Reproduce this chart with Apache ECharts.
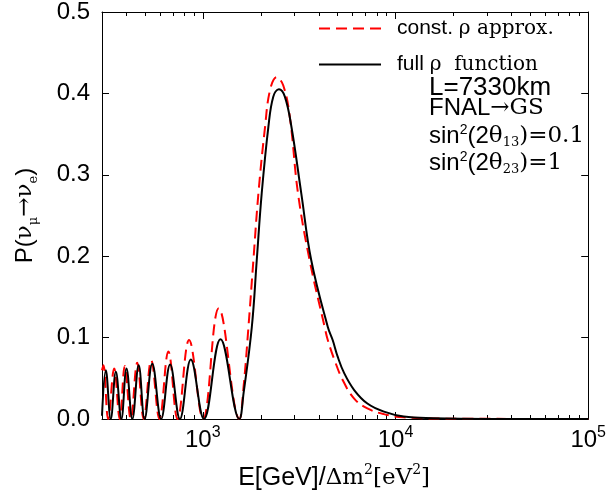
<!DOCTYPE html>
<html><head><meta charset="utf-8">
<script src="https://cdn.jsdelivr.net/npm/echarts@6/dist/echarts.min.js"></script>
<style>html,body{margin:0;padding:0;background:#fff}#c{width:609px;height:500px}</style>
</head><body><div id="c"></div>
<script>
// ---- data ----
const constE = [300, 305, 323, 347, 371, 394, 423, 457, 494, 540, 596, 663, 740, 849, 1003, 1211, 1549, 1629, 1726, 1831, 1944, 2105, 2233, 2415, 2614, 2830, 3121, 3586, 4290, 4453, 4825, 5319, 6105, 7148, 8710, 11040, 20000, 100000];
const constP = [0.060, 0.066, 0, 0.062, 0, 0.065, 0, 0.069, 0, 0.072, 0, 0.083, 0, 0.097, 0, 0.136, 0, 0.040, 0.113, 0.195, 0.277, 0.359, 0.404, 0.420, 0.410, 0.371, 0.277, 0.195, 0.113, 0.097, 0.0725, 0.048, 0.025, 0.013, 0.006, 0.002, 0.0004, 0];
const fullE = [300, 314, 333, 354, 378, 402, 431, 465, 499, 547, 608, 677, 761, 867, 1014, 1236, 1549, 1629, 1797, 1906, 2022, 2190, 2322, 2485, 2666, 2884, 3246, 3655, 4455, 4721, 5012, 5425, 6105, 7148, 8710, 11040, 15740, 30000, 100000];
const fullP = [0.004, 0.060, 0, 0.058, 0, 0.062, 0, 0.066, 0, 0.068, 0, 0.067, 0, 0.073, 0, 0.098, 0, 0.032, 0.113, 0.195, 0.277, 0.359, 0.396, 0.405, 0.396, 0.359, 0.277, 0.195, 0.113, 0.097, 0.0766, 0.056, 0.0356, 0.019, 0.009, 0.003, 0.001, 0, 0];
const xMajorTicks = [1000, 10000, 100000];
const xMinorTicks = [400, 500, 600, 700, 800, 900, 2000, 3000, 4000, 5000, 6000, 7000, 8000, 9000, 20000, 30000, 40000, 50000, 60000, 70000, 80000, 90000];
const yTicks = [0, 0.1, 0.2, 0.3, 0.4, 0.5];
const seriesNames = ['const. ρ approx.', 'full ρ  function'];

const SANS = 'Liberation Sans';
const SERIF = 'DejaVu Serif';
const zip = (a, b) => a.map((v, i) => [v, b[i]]);

const chart = echarts.init(document.getElementById('c'), null, {renderer: 'canvas'});

function xAxisCfg(pos, major, showLine) {
  return {
    type: 'log', logBase: 10, min: 300, max: 100000, position: pos,
    axisLine: {show: showLine, lineStyle: {color: '#000', width: 1}},
    axisTick: {show: true, inside: true, length: major ? 7 : 4, customValues: major ? xMajorTicks : xMinorTicks, lineStyle: {color: '#000', width: 1}},
    minorTick: {show: false},
    splitLine: {show: false},
    axisLabel: (pos === 'bottom' && major) ? {
      show: true, customValues: xMajorTicks, margin: 6,
      formatter: v => '{b|10}{s|' + Math.round(Math.log10(v)) + '}',
      rich: {
        b: {fontFamily: SANS, fontSize: 24, color: '#000', lineHeight: 30},
        s: {fontFamily: SANS, fontSize: 16, color: '#000', lineHeight: 16, verticalAlign: 'top'}
      }
    } : {show: false}
  };
}
function yAxisCfg(pos, showLabel) {
  return {
    type: 'value', min: 0, max: 0.5, interval: 0.1, position: pos,
    axisLine: {show: true, lineStyle: {color: '#000', width: 1}},
    axisTick: {show: true, inside: true, length: 7, lineStyle: {color: '#000'}},
    splitLine: {show: false},
    axisLabel: showLabel ? {show: true, margin: 12, fontFamily: SANS, fontSize: 24, color: '#000', formatter: v => v.toFixed(1)} : {show: false}
  };
}

const xA = [xAxisCfg('bottom', true, true), xAxisCfg('bottom', false, false), xAxisCfg('top', true, true), xAxisCfg('top', false, false)];
xA[0].name = '{s|E[GeV]/}{g|Δm}{gs|2}{g|[eV}{gs|2}{g|]}';
xA[0].nameLocation = 'middle';
xA[0].nameGap = 44;
xA[0].nameTextStyle = {
  padding: [0, 22, 0, 0],
  rich: {
    s: {fontFamily: SANS, fontSize: 25, color: '#000', lineHeight: 30},
    g: {fontFamily: SERIF, fontSize: 23, color: '#000', lineHeight: 30},
    gs: {fontFamily: SERIF, fontSize: 14, color: '#000', lineHeight: 14, verticalAlign: 'top'}
  }
};
const yA = [yAxisCfg('left', true), yAxisCfg('right', false)];
yA[0].name = '{s|P(}{g|ν}{sub|μ}{g|→ν}{sub|e}{s|)}';
yA[0].nameLocation = 'middle';
yA[0].nameRotate = 90;
yA[0].nameGap = 62;
yA[0].nameTextStyle = {
  rich: {
    s: {fontFamily: SANS, fontSize: 24, color: '#000', lineHeight: 30},
    g: {fontFamily: SERIF, fontSize: 23, color: '#000', lineHeight: 30},
    sub: {fontFamily: SERIF, fontSize: 13, color: '#000', lineHeight: 13, verticalAlign: 'bottom'}
  }
};

const annRich = {
  s: {fontFamily: SANS, fontSize: 24, fill: '#000', lineHeight: 26},
  L: {fontFamily: SANS, fontSize: 26, fill: '#000', lineHeight: 26},
  g: {fontFamily: SERIF, fontSize: 23, fill: '#000', lineHeight: 26},
  sup: {fontFamily: SANS, fontSize: 14, fill: '#000', lineHeight: 14, verticalAlign: 'top'},
  sub: {fontFamily: SERIF, fontSize: 13, fill: '#000', lineHeight: 13, verticalAlign: 'bottom'}
};
function ann(y, txt) {
  return {type: 'text', left: 429, top: y, style: {text: txt, rich: annRich, fill: '#000'}};
}

chart.setOption({
  animation: false,
  backgroundColor: '#fff',
  grid: {left: 102, right: 16, top: 12, bottom: 81, containLabel: false},
  xAxis: xA,
  yAxis: yA,
  legend: {
    show: true, orient: 'vertical', left: 318, top: 18, padding: 0, itemWidth: 62, itemHeight: 14, itemGap: 15,
    data: seriesNames,
    itemStyle: {opacity: 0},
    formatter: n => n === seriesNames[0] ? '{s|const. }{g|ρ approx.}' : '{s|full }{g|ρ  function}',
    textStyle: {
      rich: {
        s: {fontFamily: SANS, fontSize: 21, color: '#000', lineHeight: 24, padding: [0, 0, 0, 11]},
        g: {fontFamily: SERIF, fontSize: 20, color: '#000', lineHeight: 24}
      }
    }
  },
  graphic: [
    ann(75, '{L|L=7330km}'),
    ann(96, '{s|FNAL}{g|→GS}'),
    ann(123, '{s|sin}{sup|2}{s|(2}{g|θ}{sub|13}{g|)=0.1}'),
    ann(150, '{s|sin}{sup|2}{s|(2}{g|θ}{sub|23}{g|)=1}')
  ],
  series: [
    {
      name: seriesNames[0], type: 'line', xAxisIndex: 0, yAxisIndex: 0,
      data: zip(constE, constP), showSymbol: false, symbol: 'none', smooth: 0.4,
      lineStyle: {color: '#ff0000', width: 2, type: [11, 6]}, itemStyle: {color: '#ff0000'}, z: 2
    },
    {
      name: seriesNames[1], type: 'line', xAxisIndex: 0, yAxisIndex: 0,
      data: zip(fullE, fullP), showSymbol: false, symbol: 'none', smooth: 0.4,
      lineStyle: {color: '#000', width: 2, type: 'solid'}, itemStyle: {color: '#000'}, z: 3
    }
  ]
});
</script>
</body></html>
